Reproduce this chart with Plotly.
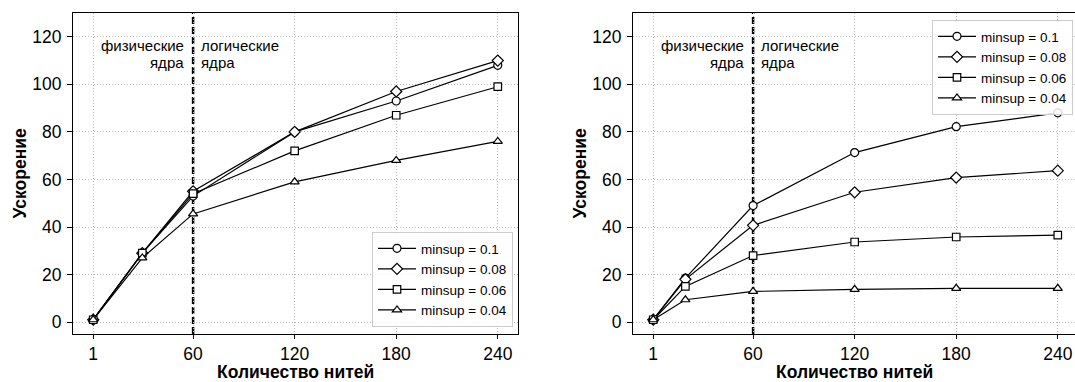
import plotly.graph_objects as go

# ---- data ----
threads_left = [1, 30, 60, 120, 180, 240]
threads_right = [1, 20, 60, 120, 180, 240]
series_names = ["minsup = 0.1", "minsup = 0.08", "minsup = 0.06", "minsup = 0.04"]

left_01 = [1, 29, 53, 80, 93, 108]
left_008 = [1, 29, 55, 80, 97, 110]
left_006 = [1, 29, 54, 72, 87, 99]
left_004 = [1, 27, 45.5, 59, 68, 76]

right_01 = [1, 18.5, 49, 71.3, 82.2, 88]
right_008 = [1, 18, 40.7, 54.6, 60.8, 63.7]
right_006 = [1, 15, 28, 33.7, 35.8, 36.6]
right_004 = [1, 9.4, 12.9, 13.8, 14.2, 14.2]

x_ticks = [1, 60, 120, 180, 240]
y_ticks = [0, 20, 40, 60, 80, 100, 120]
boundary = 60
left_label = ["физические", "ядра"]
right_label = ["логические", "ядра"]

symbols = ["circle", "diamond", "square", "triangle-up"]
sizes = [8, 8.5, 7.5, 8]

FONT = "Liberation Sans, Arial, sans-serif"

fig = go.Figure()

left_series = [left_01, left_008, left_006, left_004]
right_series = [right_01, right_008, right_006, right_004]

for name, ys, sym, sz in zip(series_names, left_series, symbols, sizes):
    fig.add_trace(go.Scatter(
        x=threads_left, y=ys, name=name, mode="lines+markers",
        line=dict(color="black", width=1.2),
        marker=dict(symbol=sym, size=sz, color="white", line=dict(color="black", width=1.2)),
        xaxis="x", yaxis="y", legend="legend",
    ))

for name, ys, sym, sz in zip(series_names, right_series, symbols, sizes):
    fig.add_trace(go.Scatter(
        x=threads_right, y=ys, name=name, mode="lines+markers",
        line=dict(color="black", width=1.2),
        marker=dict(symbol=sym, size=sz, color="white", line=dict(color="black", width=1.2)),
        xaxis="x2", yaxis="y2", legend="legend2",
    ))

W, H = 1075, 382
ML, MR, MT, MB = 73, 0, 13, 48
PW = W - ML - MR
PH = H - MT - MB
PXU = 445 / 262.9  # px per x unit

axis_common = dict(
    showline=True, linecolor="black", linewidth=1,
    ticks="outside", tickwidth=1, tickcolor="black",
    showgrid=True, gridcolor="#b8b8b8", griddash="1px,2px", gridwidth=1,
    zeroline=False, automargin=False,
    tickfont=dict(family=FONT, size=17.5, color="black"),
)

fig.update_layout(
    width=W, height=H,
    margin=dict(l=ML, r=MR, t=MT, b=MB, pad=0),
    paper_bgcolor="white", plot_bgcolor="white",
    template="none",
    showlegend=True,
    xaxis=dict(**axis_common, domain=[0, 445 / PW], range=[-10.95, 251.95], ticklen=4,
               tickvals=x_ticks, mirror=True, anchor="y"),
    yaxis=dict(**axis_common, domain=[0, 1], range=[-5, 130], ticklen=5, ticklabelstandoff=2,
               tickvals=y_ticks, mirror=True, anchor="x"),
    xaxis2=dict(**axis_common, domain=[560 / PW, 1], range=[-10.95, -10.95 + (PW - 560) / PXU], ticklen=4,
                tickvals=x_ticks, mirror=True, anchor="y2"),
    yaxis2=dict(**axis_common, domain=[0, 1], range=[-5, 130], ticklen=5, ticklabelstandoff=2,
                tickvals=y_ticks, mirror=False, anchor="x2"),
    legend=dict(
        x=(513 - ML) / PW, xanchor="right", y=(334 - 327) / PH, yanchor="bottom",
        bgcolor="rgba(255,255,255,0.85)", bordercolor="#cccccc", borderwidth=1,
        font=dict(family=FONT, size=13.5, color="black"), itemwidth=38,
    ),
    legend2=dict(
        x=(1073 - ML) / PW, xanchor="right", y=(334 - 20) / PH, yanchor="top",
        bgcolor="rgba(255,255,255,0.85)", bordercolor="#cccccc", borderwidth=1,
        font=dict(family=FONT, size=13.5, color="black"), itemwidth=38,
    ),
)

title_font = dict(family=FONT, size=17.5, color="black")
note_font = dict(family=FONT, size=15, color="black")
for xa, ya in [("x", "y"), ("x2", "y2")]:
    fig.add_shape(type="line", xref=xa, yref=f"{ya} domain", x0=boundary, x1=boundary, y0=0, y1=1,
                  line=dict(color="black", width=2.5, dash="7px,3px"), layer="below")
    for i, (lt, rt) in enumerate(zip(left_label, right_label)):
        fig.add_annotation(x=55.4, y=120, xref=xa, yref=ya, xanchor="right", yanchor="middle",
                           yshift=-(8.5 + 17.7 * i), text=lt, showarrow=False, borderpad=0,
                           font=note_font)
        fig.add_annotation(x=64.2, y=120, xref=xa, yref=ya, xanchor="left", yanchor="middle",
                           yshift=-(8.5 + 17.7 * i), text=rt, showarrow=False, borderpad=0,
                           font=note_font)
    # axis titles
    fig.add_annotation(x=0.5, y=0, xref=f"{xa} domain", yref=f"{ya} domain",
                       xanchor="center", yanchor="middle", yshift=-38,
                       text="<b>Количество нитей</b>", showarrow=False, font=title_font)
    fig.add_annotation(x=0, y=0.5, xref=f"{xa} domain", yref=f"{ya} domain",
                       xanchor="center", yanchor="middle", xshift=-54, textangle=-90,
                       text="<b>Ускорение</b>", showarrow=False, font=title_font)

fig.write_html("out.html", config={"displayModeBar": False},
               post_script="document.body.style.margin='0';document.body.style.overflow='hidden';")
